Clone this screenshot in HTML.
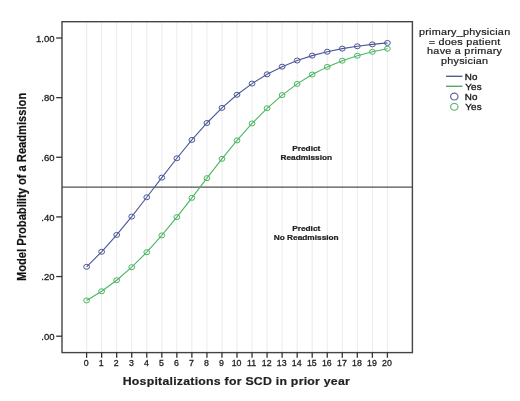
<!DOCTYPE html>
<html><head><meta charset="utf-8"><style>html,body{margin:0;padding:0;background:#fff;}svg{display:block;will-change:transform;filter:blur(0.3px);}</style></head>
<body>
<svg width="520" height="401" viewBox="0 0 520 401" font-family="Liberation Sans, sans-serif">
<rect width="520" height="401" fill="#fff"/>
<line x1="86.60" y1="21.7" x2="86.60" y2="352.6" stroke="#ebebeb" stroke-width="1"/>
<line x1="101.64" y1="21.7" x2="101.64" y2="352.6" stroke="#ebebeb" stroke-width="1"/>
<line x1="116.68" y1="21.7" x2="116.68" y2="352.6" stroke="#ebebeb" stroke-width="1"/>
<line x1="131.72" y1="21.7" x2="131.72" y2="352.6" stroke="#ebebeb" stroke-width="1"/>
<line x1="146.76" y1="21.7" x2="146.76" y2="352.6" stroke="#ebebeb" stroke-width="1"/>
<line x1="161.80" y1="21.7" x2="161.80" y2="352.6" stroke="#ebebeb" stroke-width="1"/>
<line x1="176.84" y1="21.7" x2="176.84" y2="352.6" stroke="#ebebeb" stroke-width="1"/>
<line x1="191.88" y1="21.7" x2="191.88" y2="352.6" stroke="#ebebeb" stroke-width="1"/>
<line x1="206.92" y1="21.7" x2="206.92" y2="352.6" stroke="#ebebeb" stroke-width="1"/>
<line x1="221.96" y1="21.7" x2="221.96" y2="352.6" stroke="#ebebeb" stroke-width="1"/>
<line x1="237.00" y1="21.7" x2="237.00" y2="352.6" stroke="#ebebeb" stroke-width="1"/>
<line x1="252.04" y1="21.7" x2="252.04" y2="352.6" stroke="#ebebeb" stroke-width="1"/>
<line x1="267.08" y1="21.7" x2="267.08" y2="352.6" stroke="#ebebeb" stroke-width="1"/>
<line x1="282.12" y1="21.7" x2="282.12" y2="352.6" stroke="#ebebeb" stroke-width="1"/>
<line x1="297.16" y1="21.7" x2="297.16" y2="352.6" stroke="#ebebeb" stroke-width="1"/>
<line x1="312.20" y1="21.7" x2="312.20" y2="352.6" stroke="#ebebeb" stroke-width="1"/>
<line x1="327.24" y1="21.7" x2="327.24" y2="352.6" stroke="#ebebeb" stroke-width="1"/>
<line x1="342.28" y1="21.7" x2="342.28" y2="352.6" stroke="#ebebeb" stroke-width="1"/>
<line x1="357.32" y1="21.7" x2="357.32" y2="352.6" stroke="#ebebeb" stroke-width="1"/>
<line x1="372.36" y1="21.7" x2="372.36" y2="352.6" stroke="#ebebeb" stroke-width="1"/>
<line x1="387.40" y1="21.7" x2="387.40" y2="352.6" stroke="#ebebeb" stroke-width="1"/>
<line x1="62.0" y1="187.1" x2="412.4" y2="187.1" stroke="#505050" stroke-width="1.2"/>
<rect x="62.0" y="21.7" width="350.40" height="330.90" fill="none" stroke="#444" stroke-width="1.4"/>
<line x1="56.2" y1="336.20" x2="62.0" y2="336.20" stroke="#333" stroke-width="1.3"/>
<text transform="translate(54.5,340.00) scale(1,0.93)" font-size="9.5" text-anchor="end" fill="#222" stroke="#222" stroke-width="0.3">.00</text>
<line x1="56.2" y1="276.56" x2="62.0" y2="276.56" stroke="#333" stroke-width="1.3"/>
<text transform="translate(54.5,280.36) scale(1,0.93)" font-size="9.5" text-anchor="end" fill="#222" stroke="#222" stroke-width="0.3">.20</text>
<line x1="56.2" y1="216.92" x2="62.0" y2="216.92" stroke="#333" stroke-width="1.3"/>
<text transform="translate(54.5,220.72) scale(1,0.93)" font-size="9.5" text-anchor="end" fill="#222" stroke="#222" stroke-width="0.3">.40</text>
<line x1="56.2" y1="157.28" x2="62.0" y2="157.28" stroke="#333" stroke-width="1.3"/>
<text transform="translate(54.5,161.08) scale(1,0.93)" font-size="9.5" text-anchor="end" fill="#222" stroke="#222" stroke-width="0.3">.60</text>
<line x1="56.2" y1="97.64" x2="62.0" y2="97.64" stroke="#333" stroke-width="1.3"/>
<text transform="translate(54.5,101.44) scale(1,0.93)" font-size="9.5" text-anchor="end" fill="#222" stroke="#222" stroke-width="0.3">.80</text>
<line x1="56.2" y1="38.00" x2="62.0" y2="38.00" stroke="#333" stroke-width="1.3"/>
<text transform="translate(54.5,41.80) scale(1,0.93)" font-size="9.5" text-anchor="end" fill="#222" stroke="#222" stroke-width="0.3">1.00</text>
<line x1="86.60" y1="352.6" x2="86.60" y2="357.8" stroke="#333" stroke-width="1.3"/>
<text transform="translate(86.20,366.1) scale(1,0.97)" font-size="8.8" text-anchor="middle" fill="#222" stroke="#222" stroke-width="0.3">0</text>
<line x1="101.64" y1="352.6" x2="101.64" y2="357.8" stroke="#333" stroke-width="1.3"/>
<text transform="translate(101.24,366.1) scale(1,0.97)" font-size="8.8" text-anchor="middle" fill="#222" stroke="#222" stroke-width="0.3">1</text>
<line x1="116.68" y1="352.6" x2="116.68" y2="357.8" stroke="#333" stroke-width="1.3"/>
<text transform="translate(116.28,366.1) scale(1,0.97)" font-size="8.8" text-anchor="middle" fill="#222" stroke="#222" stroke-width="0.3">2</text>
<line x1="131.72" y1="352.6" x2="131.72" y2="357.8" stroke="#333" stroke-width="1.3"/>
<text transform="translate(131.32,366.1) scale(1,0.97)" font-size="8.8" text-anchor="middle" fill="#222" stroke="#222" stroke-width="0.3">3</text>
<line x1="146.76" y1="352.6" x2="146.76" y2="357.8" stroke="#333" stroke-width="1.3"/>
<text transform="translate(146.36,366.1) scale(1,0.97)" font-size="8.8" text-anchor="middle" fill="#222" stroke="#222" stroke-width="0.3">4</text>
<line x1="161.80" y1="352.6" x2="161.80" y2="357.8" stroke="#333" stroke-width="1.3"/>
<text transform="translate(161.40,366.1) scale(1,0.97)" font-size="8.8" text-anchor="middle" fill="#222" stroke="#222" stroke-width="0.3">5</text>
<line x1="176.84" y1="352.6" x2="176.84" y2="357.8" stroke="#333" stroke-width="1.3"/>
<text transform="translate(176.44,366.1) scale(1,0.97)" font-size="8.8" text-anchor="middle" fill="#222" stroke="#222" stroke-width="0.3">6</text>
<line x1="191.88" y1="352.6" x2="191.88" y2="357.8" stroke="#333" stroke-width="1.3"/>
<text transform="translate(191.48,366.1) scale(1,0.97)" font-size="8.8" text-anchor="middle" fill="#222" stroke="#222" stroke-width="0.3">7</text>
<line x1="206.92" y1="352.6" x2="206.92" y2="357.8" stroke="#333" stroke-width="1.3"/>
<text transform="translate(206.52,366.1) scale(1,0.97)" font-size="8.8" text-anchor="middle" fill="#222" stroke="#222" stroke-width="0.3">8</text>
<line x1="221.96" y1="352.6" x2="221.96" y2="357.8" stroke="#333" stroke-width="1.3"/>
<text transform="translate(221.56,366.1) scale(1,0.97)" font-size="8.8" text-anchor="middle" fill="#222" stroke="#222" stroke-width="0.3">9</text>
<line x1="237.00" y1="352.6" x2="237.00" y2="357.8" stroke="#333" stroke-width="1.3"/>
<text transform="translate(236.60,366.1) scale(1,0.97)" font-size="8.8" text-anchor="middle" fill="#222" stroke="#222" stroke-width="0.3">10</text>
<line x1="252.04" y1="352.6" x2="252.04" y2="357.8" stroke="#333" stroke-width="1.3"/>
<text transform="translate(251.64,366.1) scale(1,0.97)" font-size="8.8" text-anchor="middle" fill="#222" stroke="#222" stroke-width="0.3">11</text>
<line x1="267.08" y1="352.6" x2="267.08" y2="357.8" stroke="#333" stroke-width="1.3"/>
<text transform="translate(266.68,366.1) scale(1,0.97)" font-size="8.8" text-anchor="middle" fill="#222" stroke="#222" stroke-width="0.3">12</text>
<line x1="282.12" y1="352.6" x2="282.12" y2="357.8" stroke="#333" stroke-width="1.3"/>
<text transform="translate(281.72,366.1) scale(1,0.97)" font-size="8.8" text-anchor="middle" fill="#222" stroke="#222" stroke-width="0.3">13</text>
<line x1="297.16" y1="352.6" x2="297.16" y2="357.8" stroke="#333" stroke-width="1.3"/>
<text transform="translate(296.76,366.1) scale(1,0.97)" font-size="8.8" text-anchor="middle" fill="#222" stroke="#222" stroke-width="0.3">14</text>
<line x1="312.20" y1="352.6" x2="312.20" y2="357.8" stroke="#333" stroke-width="1.3"/>
<text transform="translate(311.80,366.1) scale(1,0.97)" font-size="8.8" text-anchor="middle" fill="#222" stroke="#222" stroke-width="0.3">15</text>
<line x1="327.24" y1="352.6" x2="327.24" y2="357.8" stroke="#333" stroke-width="1.3"/>
<text transform="translate(326.84,366.1) scale(1,0.97)" font-size="8.8" text-anchor="middle" fill="#222" stroke="#222" stroke-width="0.3">16</text>
<line x1="342.28" y1="352.6" x2="342.28" y2="357.8" stroke="#333" stroke-width="1.3"/>
<text transform="translate(341.88,366.1) scale(1,0.97)" font-size="8.8" text-anchor="middle" fill="#222" stroke="#222" stroke-width="0.3">17</text>
<line x1="357.32" y1="352.6" x2="357.32" y2="357.8" stroke="#333" stroke-width="1.3"/>
<text transform="translate(356.92,366.1) scale(1,0.97)" font-size="8.8" text-anchor="middle" fill="#222" stroke="#222" stroke-width="0.3">18</text>
<line x1="372.36" y1="352.6" x2="372.36" y2="357.8" stroke="#333" stroke-width="1.3"/>
<text transform="translate(371.96,366.1) scale(1,0.97)" font-size="8.8" text-anchor="middle" fill="#222" stroke="#222" stroke-width="0.3">19</text>
<line x1="387.40" y1="352.6" x2="387.40" y2="357.8" stroke="#333" stroke-width="1.3"/>
<text transform="translate(387.00,366.1) scale(1,0.97)" font-size="8.8" text-anchor="middle" fill="#222" stroke="#222" stroke-width="0.3">20</text>
<polyline points="86.60,266.80 101.64,251.77 116.68,234.91 131.72,216.58 146.76,197.27 161.80,177.61 176.84,158.27 191.88,139.90 206.92,122.99 221.96,107.88 237.00,94.75 252.04,83.59 267.08,74.30 282.12,66.68 297.16,60.53 312.20,55.61 327.24,51.71 342.28,48.64 357.32,46.24 372.36,44.37 387.40,42.91" fill="none" stroke="#4B5799" stroke-width="1.1"/>
<ellipse cx="86.60" cy="266.80" rx="2.9" ry="2.5" fill="none" stroke="#4B5799" stroke-width="1"/>
<ellipse cx="101.64" cy="251.77" rx="2.9" ry="2.5" fill="none" stroke="#4B5799" stroke-width="1"/>
<ellipse cx="116.68" cy="234.91" rx="2.9" ry="2.5" fill="none" stroke="#4B5799" stroke-width="1"/>
<ellipse cx="131.72" cy="216.58" rx="2.9" ry="2.5" fill="none" stroke="#4B5799" stroke-width="1"/>
<ellipse cx="146.76" cy="197.27" rx="2.9" ry="2.5" fill="none" stroke="#4B5799" stroke-width="1"/>
<ellipse cx="161.80" cy="177.61" rx="2.9" ry="2.5" fill="none" stroke="#4B5799" stroke-width="1"/>
<ellipse cx="176.84" cy="158.27" rx="2.9" ry="2.5" fill="none" stroke="#4B5799" stroke-width="1"/>
<ellipse cx="191.88" cy="139.90" rx="2.9" ry="2.5" fill="none" stroke="#4B5799" stroke-width="1"/>
<ellipse cx="206.92" cy="122.99" rx="2.9" ry="2.5" fill="none" stroke="#4B5799" stroke-width="1"/>
<ellipse cx="221.96" cy="107.88" rx="2.9" ry="2.5" fill="none" stroke="#4B5799" stroke-width="1"/>
<ellipse cx="237.00" cy="94.75" rx="2.9" ry="2.5" fill="none" stroke="#4B5799" stroke-width="1"/>
<ellipse cx="252.04" cy="83.59" rx="2.9" ry="2.5" fill="none" stroke="#4B5799" stroke-width="1"/>
<ellipse cx="267.08" cy="74.30" rx="2.9" ry="2.5" fill="none" stroke="#4B5799" stroke-width="1"/>
<ellipse cx="282.12" cy="66.68" rx="2.9" ry="2.5" fill="none" stroke="#4B5799" stroke-width="1"/>
<ellipse cx="297.16" cy="60.53" rx="2.9" ry="2.5" fill="none" stroke="#4B5799" stroke-width="1"/>
<ellipse cx="312.20" cy="55.61" rx="2.9" ry="2.5" fill="none" stroke="#4B5799" stroke-width="1"/>
<ellipse cx="327.24" cy="51.71" rx="2.9" ry="2.5" fill="none" stroke="#4B5799" stroke-width="1"/>
<ellipse cx="342.28" cy="48.64" rx="2.9" ry="2.5" fill="none" stroke="#4B5799" stroke-width="1"/>
<ellipse cx="357.32" cy="46.24" rx="2.9" ry="2.5" fill="none" stroke="#4B5799" stroke-width="1"/>
<ellipse cx="372.36" cy="44.37" rx="2.9" ry="2.5" fill="none" stroke="#4B5799" stroke-width="1"/>
<ellipse cx="387.40" cy="42.91" rx="2.9" ry="2.5" fill="none" stroke="#4B5799" stroke-width="1"/>
<polyline points="86.60,300.43 101.64,291.25 116.68,280.22 131.72,267.21 146.76,252.23 161.80,235.43 176.84,217.13 191.88,197.84 206.92,178.18 221.96,158.83 237.00,140.41 252.04,123.46 267.08,108.30 282.12,95.10 297.16,83.89 312.20,74.54 327.24,66.88 342.28,60.69 357.32,55.74 372.36,51.81 387.40,48.72" fill="none" stroke="#4AB660" stroke-width="1.1"/>
<ellipse cx="86.60" cy="300.43" rx="2.9" ry="2.5" fill="none" stroke="#4AB660" stroke-width="1"/>
<ellipse cx="101.64" cy="291.25" rx="2.9" ry="2.5" fill="none" stroke="#4AB660" stroke-width="1"/>
<ellipse cx="116.68" cy="280.22" rx="2.9" ry="2.5" fill="none" stroke="#4AB660" stroke-width="1"/>
<ellipse cx="131.72" cy="267.21" rx="2.9" ry="2.5" fill="none" stroke="#4AB660" stroke-width="1"/>
<ellipse cx="146.76" cy="252.23" rx="2.9" ry="2.5" fill="none" stroke="#4AB660" stroke-width="1"/>
<ellipse cx="161.80" cy="235.43" rx="2.9" ry="2.5" fill="none" stroke="#4AB660" stroke-width="1"/>
<ellipse cx="176.84" cy="217.13" rx="2.9" ry="2.5" fill="none" stroke="#4AB660" stroke-width="1"/>
<ellipse cx="191.88" cy="197.84" rx="2.9" ry="2.5" fill="none" stroke="#4AB660" stroke-width="1"/>
<ellipse cx="206.92" cy="178.18" rx="2.9" ry="2.5" fill="none" stroke="#4AB660" stroke-width="1"/>
<ellipse cx="221.96" cy="158.83" rx="2.9" ry="2.5" fill="none" stroke="#4AB660" stroke-width="1"/>
<ellipse cx="237.00" cy="140.41" rx="2.9" ry="2.5" fill="none" stroke="#4AB660" stroke-width="1"/>
<ellipse cx="252.04" cy="123.46" rx="2.9" ry="2.5" fill="none" stroke="#4AB660" stroke-width="1"/>
<ellipse cx="267.08" cy="108.30" rx="2.9" ry="2.5" fill="none" stroke="#4AB660" stroke-width="1"/>
<ellipse cx="282.12" cy="95.10" rx="2.9" ry="2.5" fill="none" stroke="#4AB660" stroke-width="1"/>
<ellipse cx="297.16" cy="83.89" rx="2.9" ry="2.5" fill="none" stroke="#4AB660" stroke-width="1"/>
<ellipse cx="312.20" cy="74.54" rx="2.9" ry="2.5" fill="none" stroke="#4AB660" stroke-width="1"/>
<ellipse cx="327.24" cy="66.88" rx="2.9" ry="2.5" fill="none" stroke="#4AB660" stroke-width="1"/>
<ellipse cx="342.28" cy="60.69" rx="2.9" ry="2.5" fill="none" stroke="#4AB660" stroke-width="1"/>
<ellipse cx="357.32" cy="55.74" rx="2.9" ry="2.5" fill="none" stroke="#4AB660" stroke-width="1"/>
<ellipse cx="372.36" cy="51.81" rx="2.9" ry="2.5" fill="none" stroke="#4AB660" stroke-width="1"/>
<ellipse cx="387.40" cy="48.72" rx="2.9" ry="2.5" fill="none" stroke="#4AB660" stroke-width="1"/>
<text transform="translate(306.30,150.80) scale(1,0.85)" font-size="8.3" font-weight="bold" text-anchor="middle" fill="#222" stroke="#222" stroke-width="0.25">Predict</text>
<text transform="translate(306.30,159.80) scale(1,0.85)" font-size="8.3" font-weight="bold" text-anchor="middle" fill="#222" stroke="#222" stroke-width="0.25">Readmission</text>
<text transform="translate(306.20,231.00) scale(1,0.85)" font-size="8.3" font-weight="bold" text-anchor="middle" fill="#222" stroke="#222" stroke-width="0.25">Predict</text>
<text transform="translate(306.20,240.00) scale(1,0.85)" font-size="8.3" font-weight="bold" text-anchor="middle" fill="#222" stroke="#222" stroke-width="0.25">No Readmission</text>
<text transform="translate(236.40,384.50) scale(1,0.85)" font-size="12.3" font-weight="bold" text-anchor="middle" fill="#222" letter-spacing="0.25" stroke="#111" stroke-width="0.2">Hospitalizations for SCD in prior year</text>
<text transform="translate(25.6,186.9) rotate(-90) scale(0.826,1)" font-size="13.5" font-weight="bold" text-anchor="middle" fill="#111" stroke="#111" stroke-width="0.2">Model Probability of a Readmission</text>
<text transform="translate(464.65,34.70) scale(1,0.87)" font-size="10.8" font-weight="normal" text-anchor="middle" fill="#222" stroke="#222" stroke-width="0.25" letter-spacing="0.27">primary_physician</text>
<text transform="translate(464.65,44.57) scale(1,0.87)" font-size="10.8" font-weight="normal" text-anchor="middle" fill="#222" stroke="#222" stroke-width="0.25" letter-spacing="0.27">= does patient</text>
<text transform="translate(464.65,54.44) scale(1,0.87)" font-size="10.8" font-weight="normal" text-anchor="middle" fill="#222" stroke="#222" stroke-width="0.25" letter-spacing="0.27">have a primary</text>
<text transform="translate(464.65,64.31) scale(1,0.87)" font-size="10.8" font-weight="normal" text-anchor="middle" fill="#222" stroke="#222" stroke-width="0.25" letter-spacing="0.27">physician</text>
<line x1="446" y1="76.3" x2="462.5" y2="76.3" stroke="#565c98" stroke-width="1.4"/>
<line x1="446" y1="86.3" x2="462.5" y2="86.3" stroke="#55a866" stroke-width="1.4"/>
<ellipse cx="454.3" cy="96.6" rx="3.7" ry="3.4" fill="none" stroke="#5e64a0" stroke-width="1.2"/>
<ellipse cx="454.3" cy="106.8" rx="3.7" ry="3.4" fill="none" stroke="#6cb57a" stroke-width="1.2"/>
<text transform="translate(464.70,79.60) scale(1,0.88)" font-size="9.8" font-weight="normal" text-anchor="start" fill="#222" stroke="#222" stroke-width="0.4" letter-spacing="0.15">No</text>
<text transform="translate(465.30,89.70) scale(1,0.88)" font-size="9.8" font-weight="normal" text-anchor="start" fill="#222" stroke="#222" stroke-width="0.4" letter-spacing="0.15">Yes</text>
<text transform="translate(464.70,99.80) scale(1,0.88)" font-size="9.8" font-weight="normal" text-anchor="start" fill="#222" stroke="#222" stroke-width="0.4" letter-spacing="0.15">No</text>
<text transform="translate(465.30,109.90) scale(1,0.88)" font-size="9.8" font-weight="normal" text-anchor="start" fill="#222" stroke="#222" stroke-width="0.4" letter-spacing="0.15">Yes</text>
</svg>
</body></html>
